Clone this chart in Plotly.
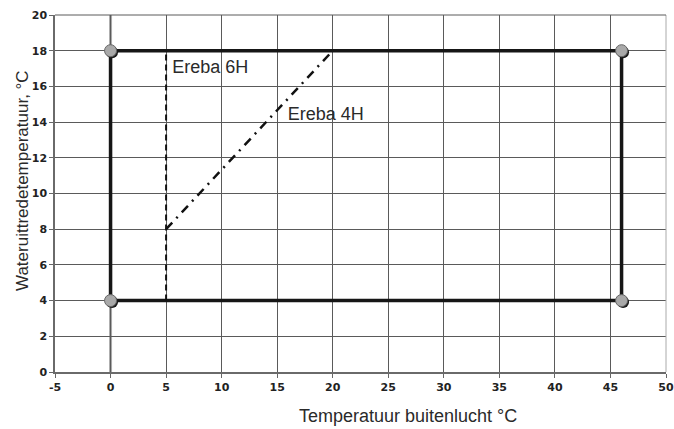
import plotly.graph_objects as go

# data
envelope_x = [0, 46, 46, 0, 0]
envelope_y = [4, 4, 18, 18, 4]
corner_x = [0, 0, 46, 46]
corner_y = [4, 18, 18, 4]
ereba6_x = [5, 5]
ereba6_y = [4, 17.8]
ereba4_x = [5, 19.7]
ereba4_y = [8, 17.8]
labels = ["Ereba 6H", "Ereba 4H"]
label_x = [5.55, 15.95]
label_y = [16.98, 14.35]
x_ticks = [-5, 0, 5, 10, 15, 20, 25, 30, 35, 40, 45, 50]
x_ticktext = ["-5", "0", "5", "10", "15", "20", "25", "30", "35", "40", "45", "50"]
y_ticks = [0, 2, 4, 6, 8, 10, 12, 14, 16, 18, 20]

W, H = 674, 429
L, R, T, B = 55, 8, 15, 57
pw, ph = W - L - R, H - T - B
XR, YR = [-5, 50], [0, 20]
sx = 1.5 / pw * (XR[1] - XR[0])
sy = 1.5 / ph * (YR[1] - YR[0])
FONT = "Liberation Sans, Arial, sans-serif"

fig = go.Figure()
fig.add_trace(go.Scatter(x=envelope_x, y=envelope_y, mode="lines",
                         line=dict(color="#161616", width=3.5), hoverinfo="skip"))
fig.add_trace(go.Scatter(x=ereba6_x, y=ereba6_y, mode="lines",
                         line=dict(color="#111", width=2, dash="6px,4px"), hoverinfo="skip"))
fig.add_trace(go.Scatter(x=ereba4_x, y=ereba4_y, mode="lines",
                         line=dict(color="#111", width=2.5, dash="9px,6px,2px,6px"), hoverinfo="skip"))
fig.add_trace(go.Scatter(x=label_x, y=label_y, mode="text", text=labels,
                         textposition="middle right",
                         textfont=dict(family=FONT, size=18, color="#2a2a2a"),
                         hoverinfo="skip"))
# marker shadow (shifted axes) and marker (unshifted overlay axes, drawn on top)
fig.add_trace(go.Scatter(x=corner_x, y=corner_y, mode="markers", xaxis="x2", yaxis="y2",
                         marker=dict(color="#1a1a1a", size=12), hoverinfo="skip"))
fig.add_trace(go.Scatter(x=corner_x, y=corner_y, mode="markers", xaxis="x3", yaxis="y3",
                         marker=dict(color="#a9a9a9", size=12, line=dict(color="#666", width=1)),
                         hoverinfo="skip"))

ax_common = dict(showgrid=True, gridcolor="#5a5a5a", gridwidth=1, zeroline=False,
                 ticks="outside", ticklen=4, tickcolor="#666", automargin=False,
                 ticklabeloverflow="allow",
                 tickfont=dict(family="DejaVu Sans", size=11, color="#222", weight="bold"),
                 showline=True, linecolor="#6a6a6a", linewidth=1.5, mirror=False)

fig.update_layout(
    width=W, height=H, showlegend=False,
    margin=dict(l=L, r=R, t=T, b=B),
    plot_bgcolor="white", paper_bgcolor="white",
    xaxis=dict(range=XR, tickmode="array", tickvals=x_ticks, ticktext=x_ticktext, **ax_common),
    yaxis=dict(range=YR, tickmode="array", tickvals=y_ticks, **ax_common),
    xaxis2=dict(range=[XR[0] - sx, XR[1] - sx], visible=False, overlaying="x"),
    yaxis2=dict(range=[YR[0] + sy, YR[1] + sy], visible=False, overlaying="y"),
    xaxis3=dict(range=XR, visible=False, overlaying="x"),
    yaxis3=dict(range=YR, visible=False, overlaying="y"),
    shapes=[
        dict(type="line", xref="x", yref="paper", x0=0, x1=0, y0=0, y1=1,
             line=dict(color="#aaa", width=3), layer="below"),
        dict(type="line", xref="paper", yref="paper", x0=1, x1=1, y0=0, y1=1,
             line=dict(color="#aaa", width=1)),
        dict(type="line", xref="paper", yref="paper", x0=0, x1=1, y0=1, y1=1,
             line=dict(color="#5a5a5a", width=1)),
    ],
    annotations=[
        dict(text="Temperatuur buitenlucht °C", xref="paper", yref="paper",
             x=(408 - L) / pw, y=-(428 - (H - B)) / ph, xanchor="center", yanchor="bottom",
             showarrow=False, font=dict(family=FONT, size=18, color="#2a2a2a")),
        dict(text="Wateruittredetemperatuur, °C", xref="paper", yref="paper",
             x=(22 - L) / pw, y=((H - B) - 181) / ph, xanchor="center", yanchor="middle",
             textangle=-90, showarrow=False, font=dict(family=FONT, size=17, color="#2a2a2a")),
    ],
)

fig.write_html("out.html", config={"displayModeBar": False},
               post_script="document.body.style.margin='0';document.body.style.overflow='hidden';")
